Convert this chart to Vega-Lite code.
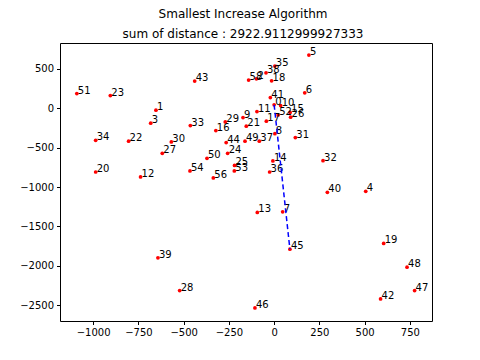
{
  "$schema": "https://vega.github.io/schema/vega-lite/v6.json",
  "width": 372,
  "height": 278,
  "autosize": {"type": "none"},
  "padding": {"left": 60, "top": 43, "right": 48, "bottom": 39},
  "background": "white",
  "title": {
    "text": "Smallest Increase Algorithm",
    "subtitle": "sum of distance : 2922.9112999927333",
    "anchor": "middle",
    "font": "DejaVu Sans",
    "fontSize": 12,
    "fontWeight": "normal",
    "color": "black",
    "subtitleFont": "DejaVu Sans",
    "subtitleFontSize": 12,
    "subtitleColor": "black",
    "subtitlePadding": 8,
    "offset": 2,
    "dx": -3
  },
  "config": {
    "view": {"stroke": "black", "strokeWidth": 1},
    "axis": {
      "grid": false,
      "domain": false,
      "tickColor": "black",
      "tickSize": 3.5,
      "labelColor": "black",
      "labelFont": "DejaVu Sans",
      "labelFontSize": 10,
      "labelPadding": 3,
      "title": null,
      "format": "d"
    }
  },
  "datasets": {
    "pts": [
      {"label": "0", "x": 0, "y": 45},
      {"label": "1", "x": -653, "y": -23},
      {"label": "2", "x": -98, "y": 375},
      {"label": "3", "x": -682, "y": -188},
      {"label": "4", "x": 506, "y": -1053},
      {"label": "5", "x": 192, "y": 677},
      {"label": "6", "x": 169, "y": 197},
      {"label": "7", "x": 47, "y": -1313},
      {"label": "8", "x": 4, "y": -321},
      {"label": "9", "x": -172, "y": -117},
      {"label": "10", "x": 36, "y": 36},
      {"label": "11", "x": -95, "y": -41},
      {"label": "12", "x": -738, "y": -871},
      {"label": "13", "x": -93, "y": -1321},
      {"label": "14", "x": -7, "y": -668},
      {"label": "15", "x": 88, "y": -51},
      {"label": "16", "x": -322, "y": -282},
      {"label": "17", "x": -43, "y": -163},
      {"label": "18", "x": -14, "y": 350},
      {"label": "19", "x": 605, "y": -1715},
      {"label": "20", "x": -986, "y": -808},
      {"label": "21", "x": -154, "y": -226},
      {"label": "22", "x": -804, "y": -417},
      {"label": "23", "x": -905, "y": 163},
      {"label": "24", "x": -257, "y": -570},
      {"label": "25", "x": -219, "y": -725},
      {"label": "26", "x": 91, "y": -112},
      {"label": "27", "x": -618, "y": -570},
      {"label": "28", "x": -522, "y": -2313},
      {"label": "29", "x": -270, "y": -172},
      {"label": "30", "x": -568, "y": -426},
      {"label": "31", "x": 117, "y": -371},
      {"label": "32", "x": 270, "y": -664},
      {"label": "33", "x": -463, "y": -219},
      {"label": "34", "x": -986, "y": -405},
      {"label": "35", "x": 4, "y": 537},
      {"label": "36", "x": -25, "y": -808},
      {"label": "37", "x": -82, "y": -417},
      {"label": "38", "x": -45, "y": 452},
      {"label": "39", "x": -642, "y": -1898},
      {"label": "40", "x": 294, "y": -1066},
      {"label": "41", "x": -21, "y": 137},
      {"label": "42", "x": 588, "y": -2420},
      {"label": "43", "x": -439, "y": 346},
      {"label": "44", "x": -265, "y": -435},
      {"label": "45", "x": 87, "y": -1788},
      {"label": "46", "x": -106, "y": -2534},
      {"label": "47", "x": 776, "y": -2313},
      {"label": "48", "x": 734, "y": -2017},
      {"label": "49", "x": -161, "y": -417},
      {"label": "50", "x": -371, "y": -634},
      {"label": "51", "x": -1090, "y": 188},
      {"label": "52", "x": 22, "y": -83},
      {"label": "53", "x": -220, "y": -795},
      {"label": "54", "x": -465, "y": -795},
      {"label": "56", "x": -336, "y": -884},
      {"label": "58", "x": -141, "y": 359}
    ],
    "path": [
      {"i": 0, "x": 0, "y": 45},
      {"i": 1, "x": 87, "y": -1788}
    ]
  },
  "encoding": {
    "x": {"field": "x", "type": "quantitative", "scale": {"domain": [-1183, 872], "nice": false, "zero": false},
          "axis": {"values": [-1000, -750, -500, -250, 0, 250, 500, 750]}},
    "y": {"field": "y", "type": "quantitative", "scale": {"domain": [-2700, 830], "nice": false, "zero": false},
          "axis": {"values": [-2500, -2000, -1500, -1000, -500, 0, 500]}}
  },
  "layer": [
    {
      "data": {"name": "pts"},
      "mark": {"type": "point", "filled": true, "color": "#ff0000", "size": 14, "opacity": 1}
    },
    {
      "data": {"name": "pts"},
      "mark": {"type": "text", "align": "left", "baseline": "alphabetic", "dx": 1, "dy": 0, "font": "DejaVu Sans", "fontSize": 10, "color": "black"},
      "encoding": {"text": {"field": "label"}}
    },
    {
      "data": {"name": "path"},
      "mark": {"type": "line", "color": "#0000ff", "strokeDash": [5, 3], "strokeWidth": 1.5},
      "encoding": {"order": {"field": "i"}}
    }
  ]
}
